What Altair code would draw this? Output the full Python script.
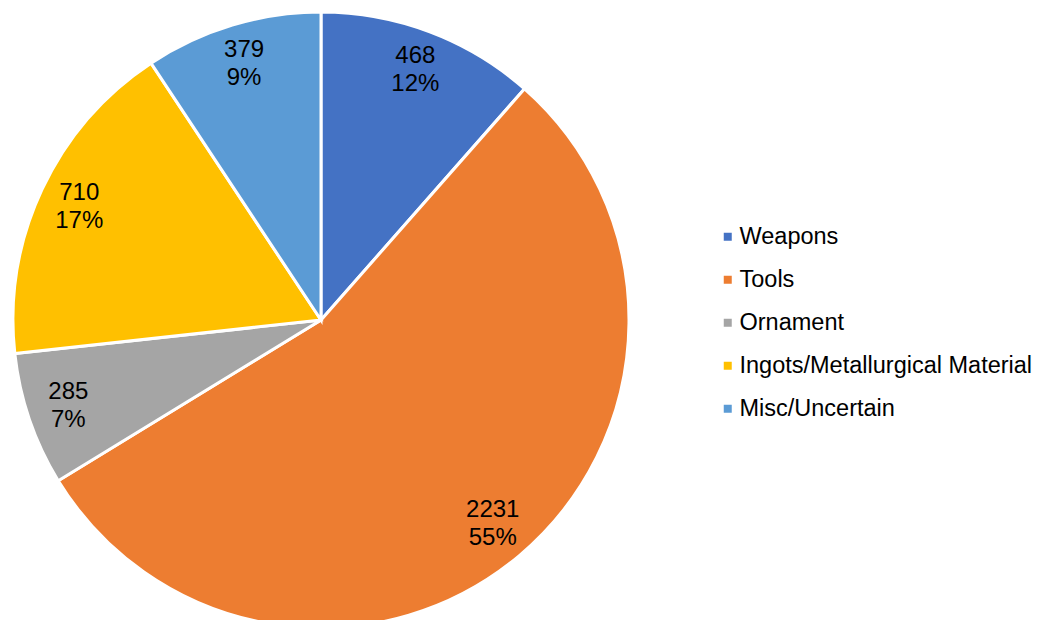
import altair as alt
import pandas as pd

categories = ["Weapons", "Tools", "Ornament", "Ingots/Metallurgical Material", "Misc/Uncertain"]
values = [468, 2231, 285, 710, 379]
pct_labels = ["12%", "55%", "7%", "17%", "9%"]
colors = ["#4472C4", "#ED7D31", "#A5A5A5", "#FFC000", "#5B9BD5"]

df = pd.DataFrame({
    "category": categories,
    "value": values,
    "pct": pct_labels,
    "order": list(range(len(categories))),
})
df["label"] = [f"{v}\n{p}" for v, p in zip(values, pct_labels)]

FONT = "Liberation Sans"

base = alt.Chart(df).encode(
    theta=alt.Theta("value:Q", stack=True),
    order=alt.Order("order:Q", sort="ascending"),
    x=alt.value(313),
    y=alt.value(312),
)

arc = base.mark_arc(outerRadius=308, stroke="white", strokeWidth=3).encode(
    color=alt.Color(
        "category:N",
        scale=alt.Scale(domain=categories, range=colors),
        sort=categories,
        legend=alt.Legend(
            title=None,
            orient="none",
            legendX=708,
            legendY=217,
            symbolType="square",
            symbolSize=64,
            symbolStrokeWidth=0,
            labelFontSize=23.5,
            labelFont=FONT,
            labelColor="black",
            labelOffset=0,
            rowPadding=18,
            padding=0,
            labelLimit=400,
        ),
    )
)

text = base.mark_text(
    radius=267, fontSize=24, font=FONT, color="black", lineBreak="\n", lineHeight=28,
    align="center", baseline="middle", dy=-14,
).encode(text="label:N")

chart = (arc + text).properties(
    width=1029, height=612,
    autosize=alt.AutoSizeParams(type="none"),
    padding=0,
).configure_view(stroke=None)

chart.save("out.html", embed_options={"renderer": "svg", "actions": False})
